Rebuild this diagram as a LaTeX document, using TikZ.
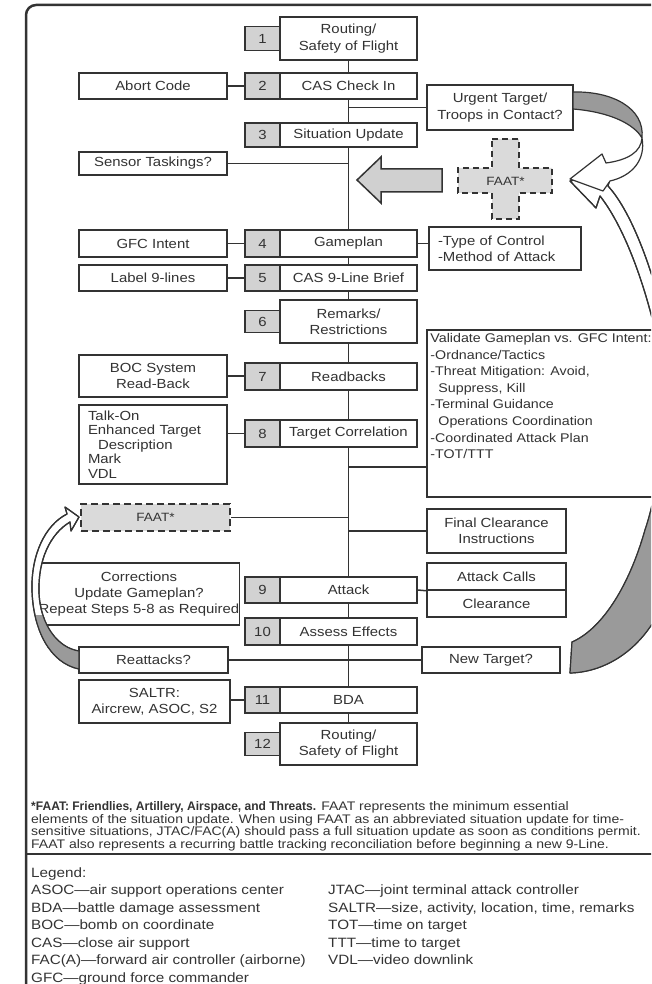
\documentclass[tikz,border=0pt]{standalone}
\usepackage{fontspec}
\setmainfont{Liberation Sans}[FakeStretch=1.13]
\newfontfamily\condbold{Liberation Sans}[FakeStretch=0.97]

\definecolor{ink}{HTML}{333333}
\definecolor{numgray}{HTML}{D2D2D2}
\definecolor{faatgray}{HTML}{DADADA}
\definecolor{arrowgray}{HTML}{D0D0D0}
\definecolor{bandgray}{HTML}{9A9A9A}

\newcommand{\boxfont}{\fontsize{13.2}{16.4}\selectfont}
\newcommand{\talkfont}{\fontsize{13.2}{14.6}\selectfont}
\newcommand{\valfont}{\fontsize{12.6}{16.6}\selectfont}
\newcommand{\faatfont}{\fontsize{12}{13}\selectfont}
\newcommand{\notefont}{\fontsize{12.4}{12.9}\selectfont}
\newcommand{\legfont}{\fontsize{13.5}{17.5}\selectfont}

\tikzset{
  wh/.style 2 args={minimum width=#1pt, minimum height=#2pt},
  box/.style={draw=ink, line width=1.5pt, fill=white, inner sep=0pt, align=center, text=ink, font=\boxfont},
  numbox/.style={box, fill=numgray},
  faatbox/.style={box, fill=faatgray, dash pattern=on 7pt off 4pt},
  faatshape/.style={draw=ink, line width=1.5pt, fill=faatgray, dash pattern=on 6pt off 4pt},
  link/.style={draw=ink, line width=1.5pt},
  frame/.style={draw=ink, line width=2.5pt, rounded corners=10pt},
  bigarrow/.style={draw=ink, line width=1.5pt, fill=arrowgray},
  ribbon/.style={draw=ink, line width=1.2pt, fill=white, line join=round},
  valtext/.style={anchor=north west, xshift=4pt, yshift=-4pt, align=left, inner sep=0pt, text=ink, font=\valfont},
  legtext/.style={anchor=base west, inner sep=0pt, text=ink, font=\legfont}
}

\def\lowrib{(570,181) -- (596,208) -- (600,196) .. controls (622,224) and (642,275) .. (655,330) .. controls (668,400) and (662,480) .. (645,530) .. controls (628,590) and (600,630) .. (572,642) -- (570,673) .. controls (612,672) and (662,640) .. (676,560) .. controls (690,470) and (682,380) .. (664,318) .. controls (650,262) and (630,210) .. (608,186) -- (612,172) -- cycle}
\def\leftrib{(79,517) -- (65,507) -- (67,514) .. controls (45,525) and (31,555) .. (32,590) .. controls (33,630) and (50,663) .. (79,669) -- (79,651) .. controls (58,648) and (40,625) .. (39,592) .. controls (38,560) and (50,534) .. (70,522) -- (71,531) -- cycle}

\begin{document}
\begin{tikzpicture}[x=1pt, y=-1pt]
  \useasboundingbox (0,0) rectangle (651,984);
  \clip (0,0) rectangle (651,984);

  % Frame
  \draw[frame] (26,995) -- (26,5) -- (665,5);
  \draw[frame] (26,854) -- (665,854);

  % Steps on the spine
  \node[box, wh={137}{43}] (s1) at (348.5,38.5) {Routing/\\Safety of Flight};
  \node[box, wh={137}{26}] (s2) at (348.5,86) {CAS Check In};
  \node[box, wh={137}{24}] (s3) at (348.5,135) {Situation Update};
  \node[box, wh={137}{27}] (s4) at (348.5,243.5) {Gameplan};
  \node[box, wh={137}{26}] (s5) at (348.5,278) {CAS 9-Line Brief};
  \node[box, wh={137}{43}] (s6) at (348.5,321.5) {Remarks/\\Restrictions};
  \node[box, wh={137}{27}] (s7) at (348.5,376.5) {Readbacks};
  \node[box, wh={137}{27}] (s8) at (348.5,433.5) {Target Correlation};
  \node[box, wh={137}{26}] (s9) at (348.5,590) {Attack};
  \node[box, wh={137}{27}] (s10) at (348.5,631.5) {Assess Effects};
  \node[box, wh={137}{26}] (s11) at (348.5,700) {BDA};
  \node[box, wh={137}{42}] (s12) at (348.5,744) {Routing/\\Safety of Flight};

  % Step numbers
  \foreach \k/\y/\h in {1/38.5/24, 2/86/26, 3/135/24, 4/243.5/27, 5/278/26, 6/321.5/22,
                        7/376.5/27, 8/433.5/27, 9/590/26, 10/631.5/27, 11/700/26, 12/744/23}
    \node[numbox, wh={35}{\h}] (n\k) at (262.5,\y) {\k};

  % Spine
  \foreach \a/\b in {s1/s2, s2/s3, s3/s4, s4/s5, s5/s6, s6/s7, s7/s8, s8/s9, s9/s10, s10/s11, s11/s12}
    \draw[link] (\a.south) -- (\b.north);

  % Left-hand boxes
  \node[box, wh={148}{26}] (abort) at (153,86) {Abort Code};
  \node[box, wh={148}{23}] (sensor) at (153,163.5) {Sensor Taskings?};
  \node[box, wh={148}{27}] (gfc) at (153,243.5) {GFC Intent};
  \node[box, wh={148}{26}] (label9) at (153,278) {Label 9-lines};
  \node[box, wh={148}{42}] (boc) at (153,376) {BOC System\\Read-Back};
  \node[box, wh={148}{79}, align=left, text width=130pt, font=\talkfont] (talkon) at (153,444.5)
    {Talk-On\\Enhanced Target\\\hspace*{10pt}Description\\Mark\\VDL};
  \node[faatbox, wh={149}{27}, font=\faatfont] (faat2) at (155.5,517.5) {FAAT*};
  \node[box, wh={200}{62}] (corr) at (139,594) {Corrections\\Update Gameplan?\\Repeat Steps 5-8 as Required};
  \node[box, wh={149}{26}] (reatt) at (153.5,660) {Reattacks?};
  \node[box, wh={151}{43}] (saltr) at (154.5,701.5) {SALTR:\\Aircrew, ASOC, S2};

  % Right-hand boxes
  \node[box, wh={146}{45}] (urgent) at (500,107.5) {Urgent Target/\\Troops in Contact?};
  \node[box, wh={152}{43}, align=left, text width=134pt] (typectl) at (505,248.5)
    {-Type of Control\\-Method of Attack};
  \node[box, wh={240}{167}, label={[valtext]north west:{Validate Gameplan vs. GFC Intent:\\
    -Ordnance/Tactics\\-Threat Mitigation: Avoid,\\\hspace*{8pt}Suppress, Kill\\-Terminal Guidance\\
    \hspace*{8pt}Operations Coordination\\-Coordinated Attack Plan\\-TOT/TTT}}] (validate) at (547,413.5) {};
  \node[box, wh={139}{44}] (final) at (496.5,531) {Final Clearance\\Instructions};
  \node[box, wh={139}{27}] (calls) at (496.5,576.5) {Attack Calls};
  \node[box, wh={139}{27}] (clear) at (496.5,603.5) {Clearance};
  \node[box, wh={138}{26}] (newtgt) at (491,660) {New Target?};

  % Side connectors
  \draw[link] (abort.east) -- (n2.west);
  \draw[link] (urgent.west) -- (urgent.west -| s2.south);
  \draw[link] (sensor.east) -- (sensor.east -| s3.south);
  \draw[link] (gfc.east) -- (n4.west);
  \draw[link] (s4.east) -- (s4.east -| typectl.west);
  \draw[link] (label9.east) -- (n5.west);
  \draw[link] (boc.east) -- (boc.east -| n7.west);
  \draw[link] (n8.west) -- (n8.west -| talkon.east);
  \coordinate (valjoin) at (427,467);
  \draw[link] (valjoin) -- (valjoin -| s8.south);
  \draw[link] (faat2.east) -- (faat2.east -| s8.south);
  \draw[link] (final.west) -- (final.west -| s8.south);
  \draw[link] (s9.east) -- (calls.south west);
  \draw[link] (reatt.east) -- (newtgt.west);
  \draw[link] (n11.west) -- (n11.west -| saltr.east);

  % FAAT cross and block arrow
  \filldraw[faatshape] (492,139) -- (519,139) -- (519,168) -- (552,168) -- (552,193) -- (519,193)
    -- (519,219) -- (492,219) -- (492,193) -- (458,193) -- (458,168) -- (492,168) -- cycle;
  \node[font=\faatfont, text=ink, inner sep=0pt] (faat1) at (505.5,181) {FAAT*};
  \filldraw[bigarrow] (357,180) -- (381,157) -- (381,169) -- (442,169) -- (442,192) -- (381,192)
    -- (381,203) -- cycle;

  % Ribbon from New Target
  \filldraw[ribbon] \lowrib;
  \begin{scope}
    \clip (540,505) rectangle (700,700);
    \fill[bandgray] \lowrib;
  \end{scope}
  \draw[ribbon, fill=none] \lowrib;

  % Ribbon from Urgent Target
  \filldraw[ribbon, fill=bandgray] (573,92) .. controls (612,91) and (645,108) .. (642,138)
    .. controls (634,124) and (610,112) .. (573,109) -- cycle;
  \filldraw[ribbon] (642,138) .. controls (641,152) and (628,160) .. (606,163) -- (602,154)
    -- (570,179) -- (603,191) -- (610,181) .. controls (632,176) and (646,160) .. (642,138) -- cycle;

  % Ribbon from Reattacks
  \filldraw[ribbon] \leftrib;
  \begin{scope}
    \clip (0,615) rectangle (120,700);
    \fill[bandgray] \leftrib;
  \end{scope}
  \draw[ribbon, fill=none] \leftrib;

  % Footnote
  \node[anchor=north west, align=left, inner sep=0pt, font=\notefont, text=ink] (note) at (31,801)
    {{\condbold\bfseries *FAAT: Friendlies, Artillery, Airspace, and Threats.} FAAT represents the minimum essential\\
     elements of the situation update. When using FAAT as an abbreviated situation update for time-\\
     sensitive situations, JTAC/FAC(A) should pass a full situation update as soon as conditions permit.\\
     FAAT also represents a recurring battle tracking reconciliation before beginning a new 9-Line.};

  % Legend
  \node[legtext] (leg0) at (31,877) {Legend:};
  \foreach \i/\txt in {1/{ASOC—air support operations center}, 2/{BDA—battle damage assessment},
                       3/{BOC—bomb on coordinate}, 4/{CAS—close air support},
                       5/{FAC(A)—forward air controller (airborne)}, 6/{GFC—ground force commander}}
    \node[legtext] (legl\i) at (31,{877+17.5*\i}) {\txt};
  \foreach \i/\txt in {1/{JTAC—joint terminal attack controller}, 2/{SALTR—size, activity, location, time, remarks},
                       3/{TOT—time on target}, 4/{TTT—time to target}, 5/{VDL—video downlink}}
    \node[legtext] (legr\i) at (328,{877+17.5*\i}) {\txt};
\end{tikzpicture}
\end{document}
